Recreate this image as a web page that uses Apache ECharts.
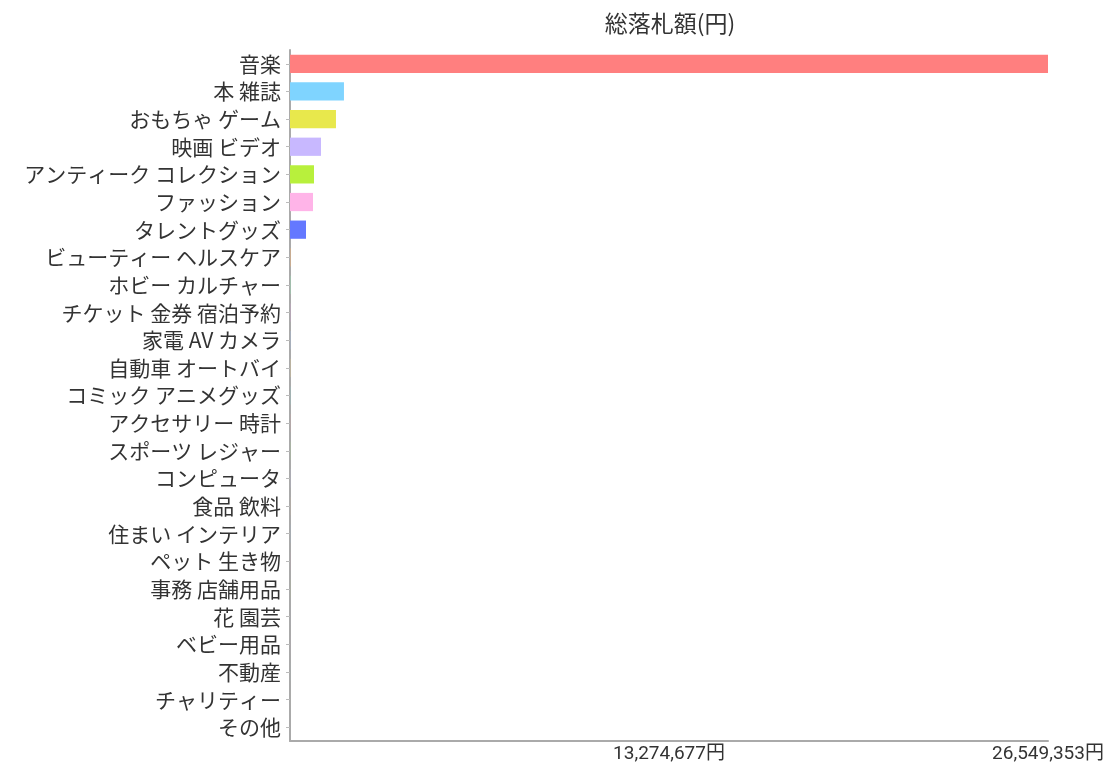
<!DOCTYPE html>
<html>
<head>
<meta charset="utf-8">
<script src="https://cdn.jsdelivr.net/npm/echarts@6/dist/echarts.min.js"></script>
<style>
html,body{margin:0;padding:0;background:#fff;}
#chart{width:1116px;height:767px;}
</style>
</head>
<body>
<div id="chart"></div>
<script>
const categories = ["音楽","本 雑誌","おもちゃ ゲーム","映画 ビデオ","アンティーク コレクション","ファッション","タレントグッズ","ビューティー ヘルスケア","ホビー カルチャー","チケット 金券 宿泊予約","家電 AV カメラ","自動車 オートバイ","コミック アニメグッズ","アクセサリー 時計","スポーツ レジャー","コンピュータ","食品 飲料","住まい インテリア","ペット 生き物","事務 店舗用品","花 園芸","ベビー用品","不動産","チャリティー","その他"];
const values = [26549353,1890000,1610000,1085000,840000,805000,560000,15000,12000,10000,9000,8000,7000,6000,5000,4000,3000,3000,2000,2000,1000,1000,1000,500,500];
const palette = ["#ff7f7f","#7fd4ff","#e8e84c","#c8b8ff","#b8f03c","#ffb4e8","#6478ff","#f0b070","#90e0b0","#d0a0d0","#a0c0f0","#f0d080","#80d0d0","#e0a0a0","#a0e080","#c0c0ff","#ffc080","#80c0ff","#ff90c0","#c0e060","#a0a0e0","#f0a0f0","#80e0e0","#e0c0a0","#b0b0b0"];
const axisMax = 26549353;

const chart = echarts.init(document.getElementById('chart'));
chart.setOption({
  animation:false,
  title:{text:'総落札額(円)',left:665,textAlign:'center',top:7,
    textStyle:{fontSize:23,fontWeight:'normal',color:'#333',fontFamily:'Noto Sans CJK JP'}},
  grid:{left:290,right:68,top:50,bottom:26,containLabel:false},
  xAxis:{type:'value',min:0,max:axisMax,interval:axisMax/2,
    splitLine:{show:false},axisTick:{show:false},
    axisLine:{show:true,lineStyle:{color:'#aaa',width:2}},
    axisLabel:{color:'#333',fontSize:19,margin:4,showMinLabel:false,
      fontFamily:'Roboto,"Noto Sans CJK JP"',
      formatter:v=> v===0?'':Math.round(v).toLocaleString('en-US')+'円'}},
  yAxis:{type:'category',data:categories,inverse:true,
    axisLine:{show:true,lineStyle:{color:'#aaa',width:2}},
    axisTick:{show:true,alignWithLabel:true,length:4,lineStyle:{color:'#bbb'}},
    axisLabel:{color:'#333',fontSize:21,margin:9,fontFamily:'Noto Sans CJK JP'}},
  series:[{type:'bar',barCategoryGap:'34%',
    data:values.map((v,i)=>({value:v,itemStyle:{color:palette[i]}}))}]
});
</script>
</body>
</html>
